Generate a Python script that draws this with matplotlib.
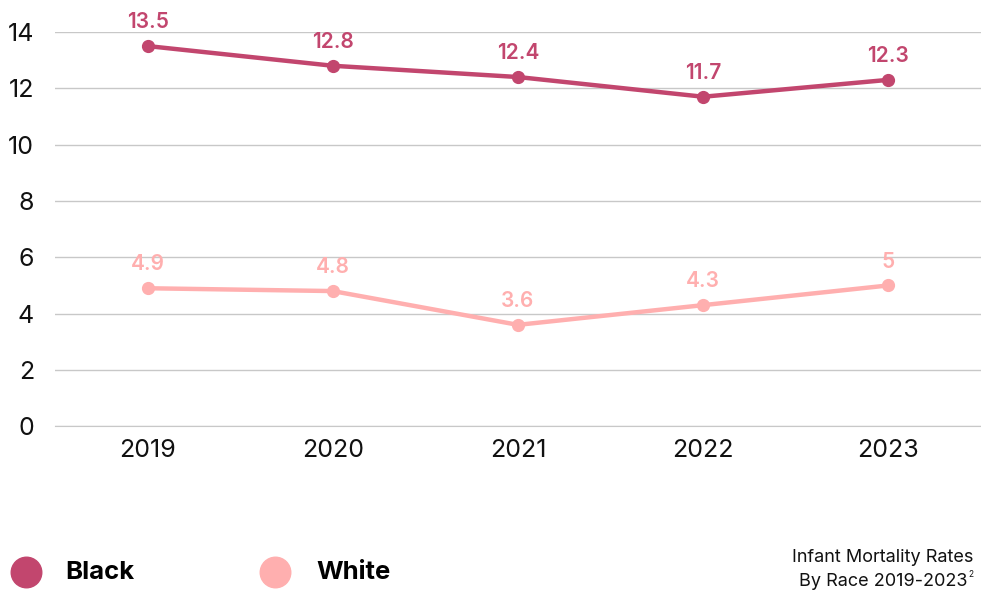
import matplotlib.pyplot as plt
from matplotlib.lines import Line2D

plt.rcParams['font.family'] = ['Inter', 'DejaVu Sans']

years = ['2019', '2020', '2021', '2022', '2023']
black = [13.5, 12.8, 12.4, 11.7, 12.3]
white = [4.9, 4.8, 3.6, 4.3, 5]
yticks = [0, 2, 4, 6, 8, 10, 12, 14]

c_black = '#C2466E'
c_white = '#FFAFAF'

fig = plt.figure(figsize=(9.81, 5.92), dpi=100)
ax = fig.add_axes([0.056, 0.28, 0.944, 0.666])

x = list(range(len(years)))
for vals, col in [(black, c_black), (white, c_white)]:
    ax.plot(x, vals, color=col, lw=3.2, marker='o', ms=8.5, solid_capstyle='round', zorder=3)
    for xi, v in zip(x, vals):
        ax.annotate(f'{v:g}', (xi, v), xytext=(0, 10), textcoords='offset points',
                    ha='center', va='bottom', color=col, fontsize=15,
                    fontweight='semibold', annotation_clip=False)

ax.set_xlim(-0.5, 4.5)
ax.set_ylim(0, 14)
ax.set_xticks(x)
ax.set_xticklabels(years)
ax.set_yticks(yticks)
ax.grid(axis='y', color='#c8c8c8', lw=1)
ax.set_axisbelow(True)
for s in ['top', 'right', 'left']:
    ax.spines[s].set_visible(False)
ax.spines['bottom'].set_color('#c8c8c8')
ax.tick_params(axis='both', length=0, labelsize=18, colors='#111111')
ax.tick_params(axis='x', pad=9)
ax.tick_params(axis='y', pad=15)

# legend
for lx, tx, lab, col in [(0.026, 0.067, 'Black', c_black), (0.28, 0.323, 'White', c_white)]:
    fig.add_artist(Line2D([lx], [0.033], marker='o', ms=22, color=col, lw=0,
                          transform=fig.transFigure))
    fig.text(tx, 0.033, lab, fontsize=18.5, fontweight='bold', va='center', ha='left')

fig.text(0.992, 0.058, 'Infant Mortality Rates', fontsize=13, ha='right', va='center', color='#111111')
fig.text(0.986, 0.018, 'By Race 2019-2023', fontsize=13, ha='right', va='center', color='#111111')
fig.text(0.987, 0.03, '2', fontsize=6, ha='left', va='center', color='#111111')

fig.savefig('out.png', dpi=100)
